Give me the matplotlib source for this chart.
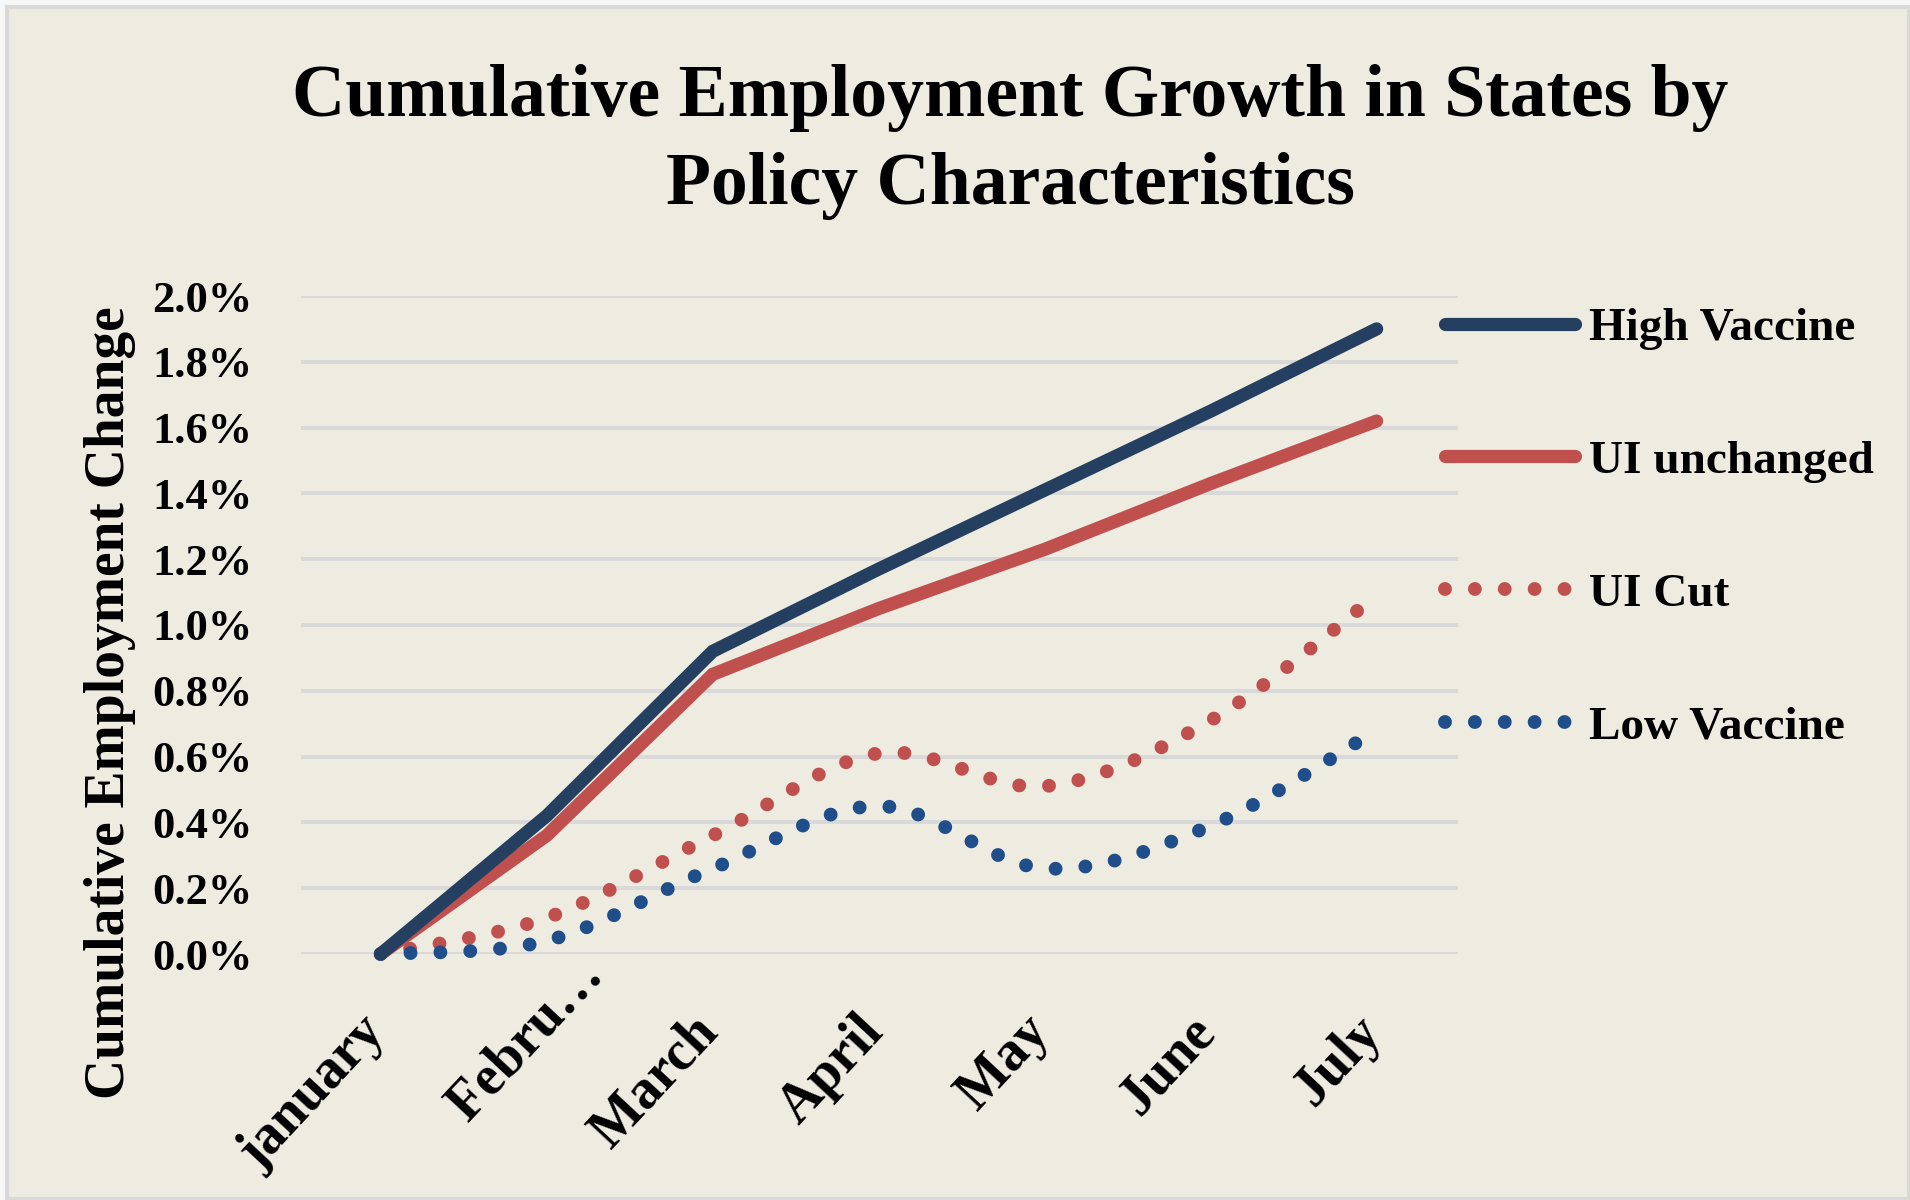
import numpy as np
import matplotlib
matplotlib.use("Agg")
import matplotlib.pyplot as plt
from matplotlib.path import Path
from matplotlib.patches import PathPatch, Rectangle
from matplotlib.lines import Line2D
from matplotlib.ticker import FuncFormatter
from matplotlib.transforms import ScaledTranslation

plt.rcParams["font.family"] = ["Liberation Serif", "DejaVu Serif"]
plt.rcParams["font.weight"] = "bold"

months = ["january", "Febru\u2026", "March", "April", "May", "June", "July"]
high_vaccine = [0.00, 0.42, 0.92, 1.17, 1.41, 1.65, 1.90]
ui_unchanged = [0.00, 0.36, 0.85, 1.05, 1.23, 1.43, 1.62]
ui_cut = [0.00, 0.11, 0.36, 0.61, 0.51, 0.71, 1.09]
low_vaccine = [0.00, 0.04, 0.26, 0.45, 0.26, 0.39, 0.68]

NAVY = "#243F60"
RED = "#C0504D"
BLUE = "#1F4E8A"
BG = "#EEEBE0"
GRID = "#D9D9D9"

DOTS = (0, (0.001, 2.15))


def smooth_path(xs, ys):
    # Catmull-Rom spline through the points, as cubic Bezier segments
    pts = np.column_stack([xs, ys]).astype(float)
    n = len(pts)
    verts = [pts[0]]
    codes = [Path.MOVETO]
    for i in range(n - 1):
        p0 = pts[max(i - 1, 0)]
        p1 = pts[i]
        p2 = pts[i + 1]
        p3 = pts[min(i + 2, n - 1)]
        verts += [p1 + (p2 - p0) / 6, p2 - (p3 - p1) / 6, p2]
        codes += [Path.CURVE4] * 3
    return Path(verts, codes)


fig = plt.figure(figsize=(19.1, 12), dpi=100, facecolor="#F7F7F7")
fig.patches.append(Rectangle((7 / 1910, 1 - 1199 / 1200), 1902 / 1910, 1192 / 1200,
                             transform=fig.transFigure, facecolor=BG,
                             edgecolor=GRID, lw=3, zorder=-10))

ax = fig.add_axes([301 / 1910, 1 - 954 / 1200, 1157 / 1910, 658 / 1200])
ax.set_facecolor("none")
for s in ax.spines.values():
    s.set_visible(False)

x = np.arange(len(months))
ax.set_xlim(-0.48, 6.49)
ax.set_ylim(0, 2.0)
ax.set_yticks(np.arange(0, 2.01, 0.2))
ax.yaxis.set_major_formatter(FuncFormatter(lambda v, p: f"{v:.1f}%"))
ax.grid(axis="y", color=GRID, lw=2.8)
ax.set_axisbelow(True)
ax.tick_params(axis="y", length=0, pad=35, labelsize=32)
ax.tick_params(axis="x", length=0, pad=50, labelsize=40)

ax.set_xticks(x)
ax.set_xticklabels(months, rotation=47, ha="right", va="center",
                   rotation_mode="anchor")
for i, lab in enumerate(ax.get_xticklabels()):
    dx, dy = (-4, 0) if i != 1 else (48, 57)
    lab.set_transform(lab.get_transform()
                      + ScaledTranslation(dx / 100, dy / 100, fig.dpi_scale_trans))

# solid series
ax.plot(x, high_vaccine, color=NAVY, lw=9.5, solid_capstyle="round",
        solid_joinstyle="miter", clip_on=False, zorder=4)
ax.plot(x, ui_unchanged, color=RED, lw=9.5, solid_capstyle="round",
        solid_joinstyle="miter", clip_on=False, zorder=3)

# smoothed dotted series
for vals, col in [(ui_cut, RED), (low_vaccine, BLUE)]:
    patch = PathPatch(smooth_path(x, vals), fill=False, edgecolor=col, lw=10,
                      linestyle=DOTS, capstyle="round", clip_on=False, zorder=3)
    ax.add_patch(patch)

fig.text(1010 / 1910, 1 - 142 / 1200,
         "Cumulative Employment Growth in States by\nPolicy Characteristics",
         ha="center", va="center", fontsize=53, fontweight="bold",
         linespacing=1.37)

fig.text(110 / 1910, 1 - 703 / 1200, "Cumulative Employment Change",
         rotation=90, ha="center", va="center", fontsize=40, fontweight="bold")

handles = [
    Line2D([], [], color=NAVY, lw=9.5, solid_capstyle="round"),
    Line2D([], [], color=RED, lw=9.5, solid_capstyle="round"),
    Line2D([], [], color=RED, lw=10, linestyle=DOTS, dash_capstyle="round"),
    Line2D([], [], color=BLUE, lw=10, linestyle=DOTS, dash_capstyle="round"),
]
fig.legend(handles, ["High Vaccine", "UI unchanged", "UI Cut", "Low Vaccine"],
           loc="upper left", bbox_to_anchor=(1445 / 1910, 1 - 307 / 1200),
           frameon=False, fontsize=34, handlelength=2.75, handletextpad=0.3,
           labelspacing=1.9, borderpad=0, borderaxespad=0)

fig.savefig("out.png", dpi=100, facecolor=fig.get_facecolor())
